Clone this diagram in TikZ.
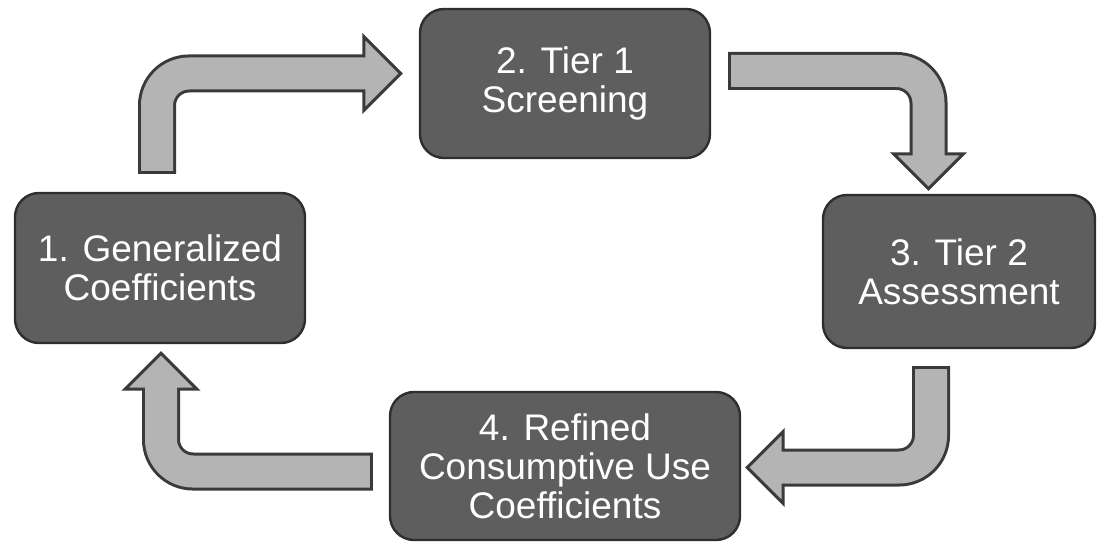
\documentclass[tikz,border=0pt]{standalone}
\usepackage{fontspec}
\setmainfont{Liberation Sans}
\usepackage{tikz}
\usetikzlibrary{positioning, calc}

\definecolor{boxgray}{HTML}{5E5E5E}
\definecolor{boxedge}{HTML}{2E2E2E}
\definecolor{arrowgray}{HTML}{B4B4B4}
\definecolor{arrowedge}{HTML}{3A3A3A}

\tikzset{
    stage/.style={
        rectangle,
        rounded corners=12pt,
        draw=boxedge,
        line width=1.2pt,
        fill=boxgray,
        text=white,
        align=center,
        inner sep=0pt,
        font=\fontsize{18.5}{19.5}\selectfont,
    },
    shaftout/.style={
        draw=arrowedge,
        line width=19pt,
        rounded corners=16pt,
    },
    shaftin/.style={
        draw=arrowgray,
        line width=16pt,
        rounded corners=16pt,
    },
    tiphead/.style={
        fill=arrowgray,
        draw=arrowedge,
        line width=1.5pt,
    },
}

% bent block arrow: tail, corner op, head base, tip
\newcommand{\cyclearrow}[4]{%
    \draw[shaftout] (#1) #2 (#3);
    \filldraw[tiphead] (#4) -- ($(#3)!1!90:(#4)$) -- ($(#3)!1!-90:(#4)$) -- cycle;
    \draw[shaftin, shorten <=1.5pt, shorten >=-3pt] (#1) #2 (#3);
}

\begin{document}
\begin{tikzpicture}[x=0.5pt, y=-0.5pt]
    \useasboundingbox (0,0) rectangle (1097,545);

    \node [stage, minimum width=145pt, minimum height=75pt] (gen) at (160,268) {1. Generalized\\Coefficients};
    \node [stage, minimum width=145pt, minimum height=74.5pt] (tier1) at (565,83.5) {2. Tier 1\\Screening};
    \node [stage, minimum width=136pt, minimum height=76.5pt] (tier2) at (959,271.5) {3. Tier 2\\Assessment};
    \node [stage, minimum width=175pt, minimum height=74pt] (refined) at (565,466) {4. Refined\\Consumptive Use\\Coefficients};

    % arrow ends
    \coordinate (gen-out) at ($(gen.north)+(-3,-18)$);
    \coordinate (tier1-tip) at ($(tier1.west)+(-18,-10)$);
    \coordinate (tier1-base) at ($(tier1-tip)+(-37,0)$);

    \coordinate (tier1-out) at ($(tier1.east)+(17,-12.5)$);
    \coordinate (tier2-tip) at ($(tier2.north)+(-30.5,-5)$);
    \coordinate (tier2-base) at ($(tier2-tip)+(0,-35)$);

    \coordinate (tier2-out) at ($(tier2.south)+(-28,17)$);
    \coordinate (refined-tip) at ($(refined.east)+(6,1.5)$);
    \coordinate (refined-base) at ($(refined-tip)+(36,0)$);

    \coordinate (refined-out) at ($(refined.west)+(-16,5.5)$);
    \coordinate (gen-tip) at ($(gen.south)+(1,9)$);
    \coordinate (gen-base) at ($(gen-tip)+(0,36)$);

    \cyclearrow{gen-out}{|-}{tier1-base}{tier1-tip}
    \cyclearrow{tier1-out}{-|}{tier2-base}{tier2-tip}
    \cyclearrow{tier2-out}{|-}{refined-base}{refined-tip}
    \cyclearrow{refined-out}{-|}{gen-base}{gen-tip}
\end{tikzpicture}
\end{document}
